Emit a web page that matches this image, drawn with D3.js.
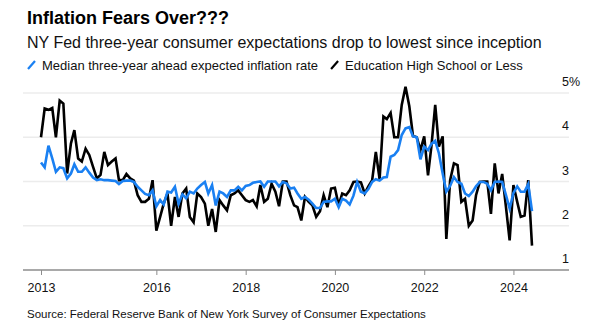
<!DOCTYPE html>
<html>
<head>
<meta charset="utf-8">
<script src="https://cdn.jsdelivr.net/npm/d3@7"></script>
<style>
  body { margin: 0; background: #fff; }
  svg { display: block; font-family: "Liberation Sans", Arial, sans-serif; }
</style>
</head>
<body>
<script>
const width = 609;
const height = 334;

// monthly survey values, June 2013 to June 2024
const firstMonth = "2013-06";
const medianExpect = [
  3.43, 3.32, 3.81, 3.52, 3.22, 3.32, 3.30, 3.07, 3.18, 3.39,
  3.22, 3.22, 3.32, 3.20, 3.09, 3.03, 3.05, 3.03, 3.03, 3.02,
  3.01, 2.94, 3.01, 3.02, 3.02, 2.99, 2.88, 2.80, 2.72, 2.69,
  2.80, 2.44, 2.58, 2.48, 2.77, 2.75, 2.88, 2.50, 2.71, 2.62,
  2.77, 2.73, 2.84, 2.92, 2.99, 2.73, 2.92, 2.46, 2.77, 2.73,
  2.65, 2.80, 2.80, 2.88, 2.80, 2.90, 2.92, 2.97, 2.99, 3.00,
  2.88, 3.00, 3.00, 3.00, 2.89, 2.99, 2.96, 2.84, 2.86, 2.73,
  2.61, 2.65, 2.59, 2.50, 2.40, 2.40, 2.54, 2.55, 2.55, 2.61,
  2.42, 2.61, 2.57, 2.48, 2.68, 2.99, 2.77, 2.73, 2.83, 2.99,
  3.05, 3.02, 3.09, 3.10, 3.56, 3.60, 3.71, 4.05, 4.20, 4.23,
  4.02, 4.00, 3.50, 3.79, 3.71, 3.85, 3.92, 3.64, 3.18, 2.77,
  2.90, 3.10, 2.99, 2.95, 2.73, 2.67, 2.77, 2.89, 2.99, 2.99,
  2.95, 2.80, 2.99, 3.00, 2.99, 2.69, 2.39, 2.74, 2.89, 2.77,
  2.77, 2.94, 2.33
];
const highSchoolOrLess = [
  4.00, 4.65, 4.62, 4.66, 4.00, 4.83, 4.76, 3.18, 3.86, 4.16,
  3.52, 3.45, 3.74, 3.60, 3.33, 3.07, 3.15, 3.67, 3.37, 3.45,
  3.52, 3.03, 3.03, 3.17, 3.07, 3.02, 2.69, 2.54, 2.54, 2.61,
  3.03, 1.89, 2.20, 2.50, 2.73, 2.00, 2.65, 2.20, 2.73, 2.84,
  2.20, 2.08, 2.73, 2.65, 2.50, 2.00, 2.38, 1.86, 2.58, 2.46,
  2.35, 2.69, 2.73, 2.80, 2.69, 2.58, 2.54, 2.58, 2.44, 2.92,
  2.54, 2.61, 2.95, 2.77, 2.44, 3.00, 3.00, 2.69, 2.46, 2.42,
  2.12, 2.65, 2.54, 2.46, 2.20, 2.33, 2.69, 2.42, 2.84, 2.86,
  2.46, 2.73, 2.69, 2.80, 2.99, 3.00, 2.98, 2.73, 2.89, 3.03,
  3.67, 3.05, 4.47, 4.41, 4.55, 4.00, 4.00, 4.73, 5.14, 4.70,
  4.03, 4.00, 3.71, 4.02, 3.14, 3.80, 4.73, 3.79, 4.02, 1.70,
  3.03, 3.41, 3.37, 2.54, 2.61, 2.00, 2.12, 2.69, 2.99, 3.00,
  3.00, 2.27, 3.41, 2.73, 3.17, 2.42, 1.67, 2.92, 2.54, 2.20,
  2.23, 3.03, 1.55
];

const xTickMonths = ["2013-06", "2016-01", "2018-01", "2020-01", "2022-01", "2024-01"];
const xTickLabels = ["2013", "2016", "2018", "2020", "2022", "2024"];
const yTicks = [1, 2, 3, 4, 5];

const seriesNames = ["Median three-year ahead expected inflation rate", "Education High School or Less"];
const seriesColors = ["#1a80f2", "#000000"];

const parseMonth = d3.timeParse("%Y-%m");
const start = parseMonth(firstMonth);
const dates = medianExpect.map((_, i) => d3.timeMonth.offset(start, i));

const x = d3.scaleTime()
    .domain([start, dates[dates.length - 1]])
    .range([41, 532]);

const y = d3.scaleLinear()
    .domain([1, 5])
    .range([270, 93]);

const svg = d3.select("body")
    .append("svg")
    .attr("width", width)
    .attr("height", height);

// headings
svg.append("text")
    .attr("x", 27).attr("y", 24)
    .style("font-size", "18px").style("font-weight", "bold")
    .style("fill", "#000")
    .text("Inflation Fears Over???");

svg.append("text")
    .attr("x", 27).attr("y", 48)
    .style("font-size", "16px")
    .style("fill", "#111")
    .text("NY Fed three-year consumer expectations drop to lowest since inception");

// legend
const legend = svg.append("g").attr("transform", "translate(27,70)");
let lx = 0;
seriesNames.forEach((name, i) => {
    legend.append("line")
        .attr("x1", lx + 1).attr("y1", -1)
        .attr("x2", lx + 8).attr("y2", -9)
        .style("stroke", seriesColors[i])
        .style("stroke-width", 2.2);
    const t = legend.append("text")
        .attr("x", lx + 15).attr("y", 0)
        .style("font-size", "13px")
        .style("fill", "#111")
        .text(name);
    lx += 15 + t.node().getComputedTextLength() + 12;
});

// gridlines and right-hand labels
const grid = svg.append("g");
grid.selectAll("line")
    .data(yTicks.filter(d => d > 1))
    .enter()
    .append("line")
    .attr("x1", 23).attr("x2", 569)
    .attr("y1", d => y(d)).attr("y2", d => y(d))
    .style("stroke", "#ececec")
    .style("stroke-width", 1.5);

grid.selectAll("text")
    .data(yTicks)
    .enter()
    .append("text")
    .attr("x", 562)
    .attr("y", d => y(d) - 7)
    .style("font-size", "12.5px")
    .style("fill", "#111")
    .text(d => d === 5 ? d + "%" : d);

// x axis
const xAxis = d3.axisBottom(x)
    .tickValues(xTickMonths.map(parseMonth))
    .tickFormat((d, i) => xTickLabels[i])
    .tickSize(5)
    .tickSizeOuter(0);

const gx = svg.append("g")
    .attr("transform", "translate(0,270)")
    .call(xAxis);
gx.select(".domain").remove();
gx.append("line")
    .attr("x1", 23).attr("x2", 569)
    .style("stroke", "#8c8c8c")
    .style("stroke-width", 1.5);
gx.selectAll(".tick line").style("stroke", "#8c8c8c");
gx.selectAll(".tick text")
    .attr("dy", 0).attr("y", 22)
    .style("font-family", "Liberation Sans, Arial, sans-serif")
    .style("font-size", "12.5px")
    .style("fill", "#111");

// lines
const line = d3.line()
    .x((d, i) => x(dates[i]))
    .y(d => y(d));

[highSchoolOrLess, medianExpect].forEach((values, k) => {
    svg.append("path")
        .datum(values)
        .attr("d", line)
        .style("fill", "none")
        .style("stroke", k === 0 ? seriesColors[1] : seriesColors[0])
        .style("stroke-width", 2.6)
        .style("stroke-linejoin", "miter");
});

svg.append("text")
    .attr("x", 27).attr("y", 318)
    .style("font-size", "11.5px")
    .style("fill", "#111")
    .text("Source: Federal Reserve Bank of New York Survey of Consumer Expectations");
</script>
</body>
</html>
